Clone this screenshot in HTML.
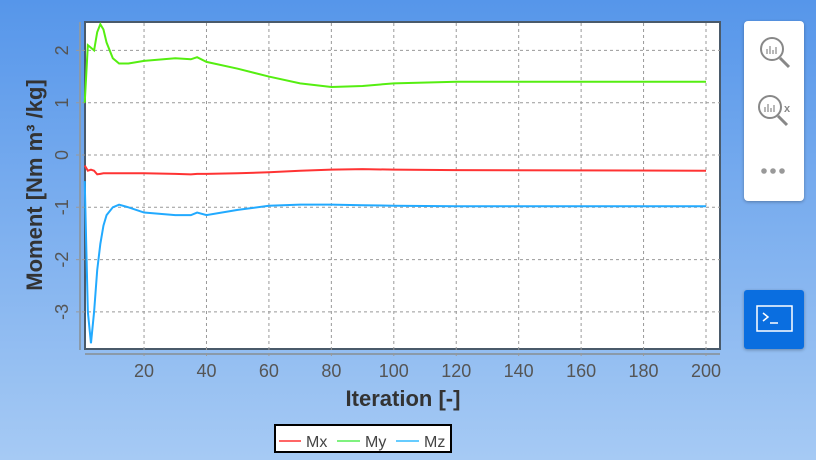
<!DOCTYPE html>
<html><head><meta charset="utf-8"><style>
body{margin:0;width:816px;height:460px;overflow:hidden;background:linear-gradient(#5696ea,#a6caf4);font-family:"Liberation Sans",sans-serif;position:relative}
#tools{position:absolute;left:744px;top:21px;width:60px;height:180px;background:#fff;border-radius:4px;box-shadow:0 1px 3px rgba(0,0,0,.3)}
#term{position:absolute;left:744px;top:290px;width:60px;height:59px;background:#0a6ee0;border-radius:3px;box-shadow:0 1px 3px rgba(0,0,0,.3)}
</style></head><body>
<svg id="chart" width="816" height="460" style="position:absolute;left:0;top:0">
<rect x="85" y="22" width="635" height="327" fill="#fff" stroke="#4a5a6a" stroke-width="2"/>
<line x1="80" y1="22" x2="80" y2="350" stroke="#8a9aaa" stroke-width="2"/>
<line x1="85" y1="354" x2="720" y2="354" stroke="#8a9aaa" stroke-width="2"/>
<g id="grid"></g><g id="series"></g><g id="ticks" fill="#555" font-size="18"></g>
<text x="403" y="406" text-anchor="middle" font-size="22" font-weight="bold" fill="#333">Iteration [-]</text>
<text transform="translate(42,185) rotate(-90)" text-anchor="middle" font-size="22" font-weight="bold" fill="#333">Moment [Nm m³ /kg]</text>
<g>
<rect x="275" y="425" width="176" height="27" fill="#fff" stroke="#000" stroke-width="2"/>
<line x1="279" y1="441" x2="301" y2="441" stroke="#f33" stroke-width="1.5"/><text x="306" y="447" font-size="16" fill="#444">Mx</text>
<line x1="337" y1="441" x2="360" y2="441" stroke="#5e5" stroke-width="1.5"/><text x="365" y="447" font-size="16" fill="#444">My</text>
<line x1="396" y1="441" x2="419" y2="441" stroke="#3bf" stroke-width="1.5"/><text x="424" y="447" font-size="16" fill="#444">Mz</text>
</g>
</svg>
<div id="tools">
<svg width="60" height="180">
<g stroke="#888" fill="none" stroke-width="2"><circle cx="28" cy="28" r="11"/><line x1="36" y1="37" x2="45" y2="46" stroke-width="3"/><path d="M23 33v-5M26 33v-8M29 33v-4M32 33v-7" stroke-width="1.2"/></g>
<g stroke="#888" fill="none" stroke-width="2"><circle cx="26" cy="86" r="11"/><line x1="34" y1="95" x2="43" y2="104" stroke-width="3"/><path d="M21 91v-5M24 91v-8M27 91v-4M30 91v-7" stroke-width="1.2"/><text x="40" y="91" font-size="11" fill="#888" stroke="none" font-weight="bold">x</text></g>
<g fill="#999"><circle cx="20" cy="150" r="2.8"/><circle cx="29" cy="150" r="2.8"/><circle cx="38" cy="150" r="2.8"/></g>
</svg></div>
<div id="term"><svg width="60" height="59"><rect x="13" y="16" width="35" height="25" fill="none" stroke="#fff" stroke-width="1.5"/><path d="M19 23l5 4-5 4" stroke="#fff" fill="none" stroke-width="1.5"/><line x1="26" y1="33" x2="34" y2="33" stroke="#fff" stroke-width="1.5"/></svg></div>
<script>
const xTicks=[20,40,60,80,100,120,140,160,180,200];
const yTicks=[-3,-2,-1,0,1,2];
const itX=[1,2,3,4,5,6,7,8,10,12,15,20,30,35,37,40,50,60,70,80,90,100,120,200];
const mx=[-0.2,-0.3,-0.28,-0.3,-0.37,-0.36,-0.35,-0.35,-0.35,-0.35,-0.35,-0.35,-0.36,-0.37,-0.36,-0.36,-0.35,-0.33,-0.3,-0.28,-0.27,-0.28,-0.29,-0.3];
const my=[1.0,2.1,2.05,2.0,2.35,2.5,2.4,2.15,1.85,1.75,1.75,1.8,1.85,1.83,1.87,1.78,1.65,1.5,1.37,1.3,1.32,1.37,1.4,1.4];
const mz=[-0.5,-3.0,-3.6,-3.0,-2.2,-1.7,-1.35,-1.15,-1.0,-0.95,-1.0,-1.1,-1.15,-1.15,-1.1,-1.15,-1.05,-0.97,-0.95,-0.95,-0.96,-0.97,-0.98,-0.98];
const X=v=>81.6+v*3.122, Y=v=>155-v*52.3;
const ns="http://www.w3.org/2000/svg";
const grid=document.getElementById('grid'),ticks=document.getElementById('ticks'),ser=document.getElementById('series');
function mk(tag,at,p){const e=document.createElementNS(ns,tag);for(const k in at)e.setAttribute(k,at[k]);p.appendChild(e);return e;}
xTicks.forEach(t=>{const l=mk('line',{x1:X(t),x2:X(t),y1:23,y2:358,stroke:'#999','stroke-dasharray':'3,3'},grid);


const tx=mk('text',{x:X(t),y:377,'text-anchor':'middle'},ticks);tx.textContent=t;

});
yTicks.forEach(t=>{const l=mk('line',{x1:76,x2:720,y1:Y(t),y2:Y(t),stroke:'#999','stroke-dasharray':'3,3'},grid);


const tx=mk('text',{transform:`translate(68,${Y(t)}) rotate(-90)`,'text-anchor':'middle'},ticks);tx.textContent=t;

});
[[mx,'#f33','series-mx'],[my,'#5e1','series-my'],[mz,'#2af','series-mz']].forEach(([d,c,n])=>{
const p=mk('polyline',{points:d.map((v,i)=>X(itX[i])+','+Y(v)).join(' '),fill:'none',stroke:c,'stroke-width':2},ser);

});
</script>
</body></html>
